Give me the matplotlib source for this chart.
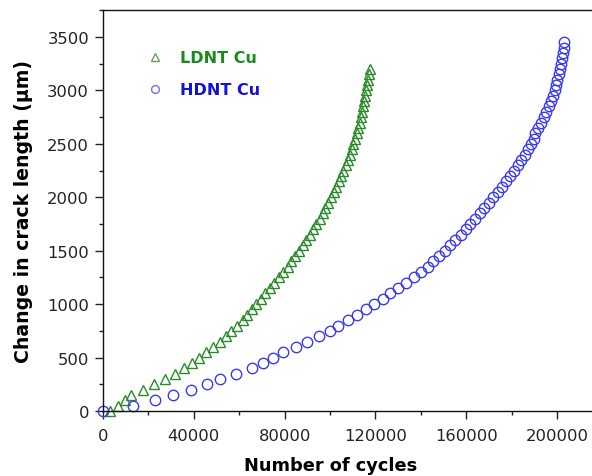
import matplotlib
matplotlib.use("Agg")
import matplotlib.pyplot as plt
from matplotlib.ticker import MultipleLocator

# ---- data ----
ldnt_len = [0, 50, 100, 150, 200, 250, 300, 350, 400, 450, 500, 550, 600, 650,
            700, 750, 800, 850, 900, 950, 1000, 1050, 1100, 1150, 1200, 1250,
            1300, 1350, 1400, 1450, 1500, 1550, 1600, 1650, 1700, 1750, 1800,
            1850, 1900, 1950, 2000, 2050, 2100, 2150, 2200, 2250, 2300, 2350,
            2400, 2450, 2500, 2550, 2600, 2650, 2700, 2750, 2800, 2850, 2900,
            2950, 3000, 3050, 3100, 3150, 3200]
ldnt_cyc = [3000, 6500, 9500, 12500, 17500, 22500, 27500, 31500, 35500, 39000,
            42500, 45500, 48500, 51500, 54000, 56500, 59000, 61500, 63500,
            65500, 67500, 69500, 71500, 73500, 75500, 77500, 79500, 81300,
            83000, 84700, 86300, 88000, 89600, 91100, 92600, 94000, 95400,
            96700, 98000, 99200, 100400, 101600, 102700, 103800, 104900,
            105900, 106900, 107800, 108700, 109500, 110300, 111000, 111700,
            112400, 113000, 113600, 114100, 114600, 115100, 115600, 116000,
            116400, 116800, 117200, 117600]

hdnt_len = [0, 50, 100, 150, 200, 250, 300, 350, 400, 450, 500, 550, 600, 650,
            700, 750, 800, 850, 900, 950, 1000, 1050, 1100, 1150, 1200, 1250,
            1300, 1350, 1400, 1450, 1500, 1550, 1600, 1650, 1700, 1750, 1800,
            1850, 1900, 1950, 2000, 2050, 2100, 2150, 2200, 2250, 2300, 2350,
            2400, 2450, 2500, 2550, 2600, 2650, 2700, 2750, 2800, 2850, 2900,
            2950, 3000, 3050, 3100, 3150, 3200, 3250, 3300, 3350, 3400, 3450]
hdnt_cyc = [0, 13200, 23000, 30800, 38700, 46000, 51500, 58600, 65600, 70500,
            74900, 79300, 85000, 90000, 95300, 99800, 103500, 108000, 112000,
            115800, 119500, 123300, 126500, 130000, 133500, 137000, 140000,
            143000, 145500, 148000, 150500, 152800, 155200, 157500, 159700,
            161800, 163900, 166000, 168000, 170000, 172000, 173900, 175700,
            177500, 179300, 181000, 182700, 184300, 185800, 187200, 188500,
            189800, 190300, 191700, 193000, 194200, 195300, 196400, 197400,
            198200, 198900, 199500, 200100, 200700, 201200, 201700, 202100,
            202500, 202900, 203200]

x_ticks = [0, 40000, 80000, 120000, 160000, 200000]
y_ticks = [0, 500, 1000, 1500, 2000, 2500, 3000, 3500]

green = "#2a8a2a"
blue = "#3a3aee"

plt.rcParams['font.family'] = ['DejaVu Sans']

fig = plt.figure(figsize=(5.92, 4.77), dpi=100)
ax = fig.add_axes([103/592, 1 - 412/477, 1 - 103/592, (412 - 11)/477])

ax.plot(ldnt_cyc, ldnt_len, linestyle='none', marker='^', markersize=7.5,
        markerfacecolor='none', markeredgecolor=green, markeredgewidth=1.0,
        label='LDNT Cu', clip_on=False)
ax.plot(hdnt_cyc, hdnt_len, linestyle='none', marker='o', markersize=7.5,
        markerfacecolor='none', markeredgecolor=blue, markeredgewidth=1.0,
        label='HDNT Cu', clip_on=False)

ax.set_xlim(0, 215400)
ax.set_ylim(0, 3753)
ax.set_xticks(x_ticks)
ax.set_xticklabels([str(v) for v in x_ticks])
ax.set_yticks(y_ticks)
ax.set_yticklabels([str(v) for v in y_ticks])
ax.xaxis.set_minor_locator(MultipleLocator(20000))
ax.yaxis.set_minor_locator(MultipleLocator(250))

ax.tick_params(which='major', direction='out', length=6, width=1,
               labelsize=11.8, pad=4, colors='#222222')
ax.tick_params(axis='x', which='major', pad=6)
ax.tick_params(which='minor', direction='out', length=3, width=1,
               colors='#222222')
ax.tick_params(axis='x', which='both', top=False)
ax.tick_params(axis='y', which='both', right=False)

for s in ['left', 'bottom', 'top']:
    ax.spines[s].set_linewidth(1.0)
    ax.spines[s].set_color('#111111')
ax.spines['right'].set_visible(False)

ax.set_xlabel('Number of cycles', fontsize=12.8, fontweight='bold')
ax.xaxis.set_label_coords(0.466, -0.113)
ax.set_ylabel('Change in crack length (\u00b5m)', fontsize=13.6,
              fontweight='bold', labelpad=10)

leg = ax.legend(loc='upper left', bbox_to_anchor=(0.06, 0.935), frameon=False,
                handletextpad=1.1, labelspacing=1.06, handlelength=1.0,
                markerscale=0.75,
                prop={'weight': 'bold', 'size': 11.5})
for txt, c in zip(leg.get_texts(), ['#1a8a1a', '#1010e0']):
    txt.set_color(c)
for h, c in zip(leg.legend_handles, ['#6a9a6a', '#7070ee']):
    h.set_markeredgecolor(c)

fig.savefig('out.png', dpi=100)
